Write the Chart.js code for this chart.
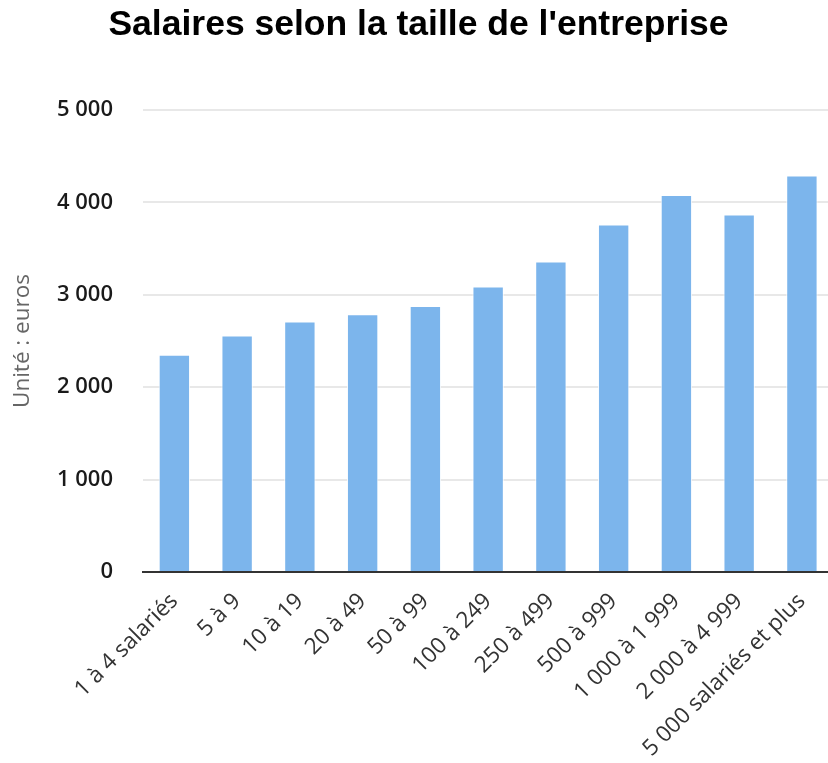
<!DOCTYPE html>
<html>
<head>
<meta charset="utf-8">
<script src="https://cdn.jsdelivr.net/npm/chart.js@4"></script>
<style>
  html, body { margin: 0; padding: 0; overflow: hidden; background: #ffffff; }
  #wrap { width: 837px; height: 763px; position: relative; }
</style>
</head>
<body>
<div id="wrap"><canvas id="c"></canvas></div>
<script>
const chartTitle = "Salaires selon la taille de l'entreprise";
const yAxisTitle = "Unité : euros";
const categories = ['1 à 4 salariés', '5 à 9', '10 à 19', '20 à 49', '50 à 99', '100 à 249', '250 à 499', '500 à 999', '1 000 à 1 999', '2 000 à 4 999', '5 000 salariés et plus'];
const salaries = [2350, 2560, 2710, 2790, 2880, 3090, 3360, 3760, 4080, 3870, 4290];
const yTicks = [0, 1000, 2000, 3000, 4000, 5000];

function fmt(v) { return String(v).replace(/\B(?=(\d{3})+(?!\d))/g, ' '); }

new Chart(document.getElementById('c'), {
  type: 'bar',
  data: {
    labels: categories,
    datasets: [{
      data: salaries,
      backgroundColor: '#7cb5ec',
      borderColor: 'rgba(255,255,255,0.85)',
      borderWidth: 1,
      barPercentage: 0.5,
      categoryPercentage: 1.0
    }]
  },
  options: {
    responsive: true,
    maintainAspectRatio: false,
    animation: false,
    layout: { padding: { left: 0, right: 0, top: 0, bottom: 0 } },
    plugins: {
      legend: { display: false },
      tooltip: { enabled: false },
      title: {
        display: true,
        text: chartTitle,
        color: '#000000',
        font: { family: "'Liberation Sans', Arial, sans-serif", size: 35.5, weight: 'bold', lineHeight: 1.2 },
        padding: { top: 4, bottom: 63.4 }
      }
    },
    scales: {
      x: {
        grid: { display: false, drawTicks: false },
        border: { display: true, color: '#333333', width: 2 },
        ticks: {
          color: '#333333',
          font: { family: "'Open Sans', sans-serif", size: 22.5 },
          minRotation: 45,
          maxRotation: 45,
          autoSkip: false,
          padding: 16
        },
        afterFit: function (s) { s.height = 191; }
      },
      y: {
        min: 0,
        max: 5000,
        afterBuildTicks: function (s) { s.ticks = yTicks.map(v => ({ value: v })); },
        grid: { color: '#e8e8e8', lineWidth: 2, drawTicks: false },
        border: { display: false },
        ticks: {
          color: '#1a1a1a',
          font: { family: "'Open Sans', sans-serif", size: 22, weight: '600' },
          padding: 30,
          callback: function (v) { return fmt(v); }
        },
        title: {
          display: true,
          text: yAxisTitle,
          color: '#666666',
          font: { family: "'Open Sans', sans-serif", size: 22.5 },
          padding: { top: 9, bottom: 0 }
        },
        afterFit: function (s) { s.width = 143; }
      }
    }
  }
});
</script>
</body>
</html>
